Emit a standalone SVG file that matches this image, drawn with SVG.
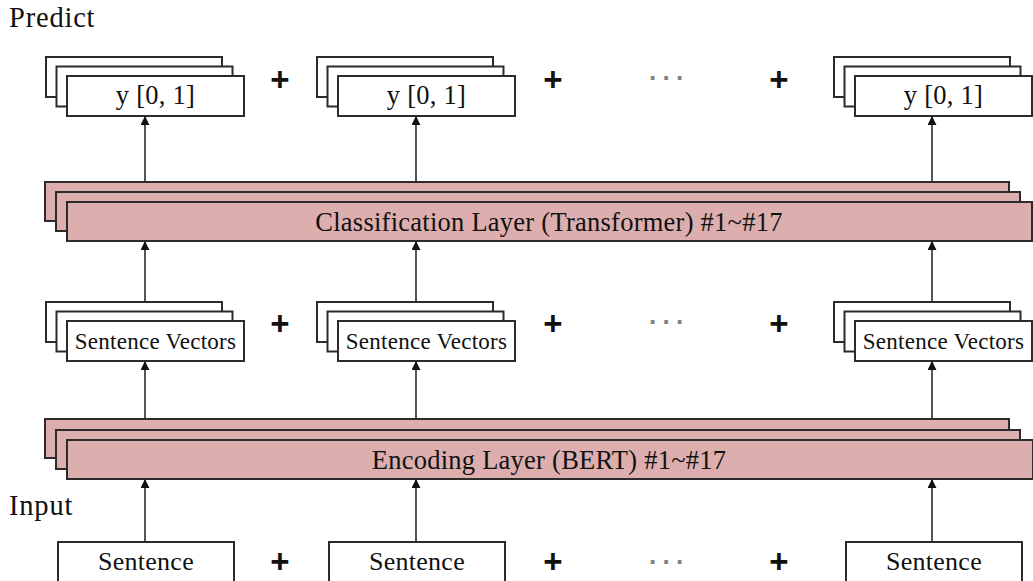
<svg xmlns="http://www.w3.org/2000/svg" width="1033" height="581" viewBox="0 0 1033 581">
  <style>
    .card { fill: #ffffff; stroke: #2b2b2b; stroke-width: 2; }
    .layer { fill: #dcaeae; stroke: #2b2b2b; stroke-width: 2; }
    .lbl { font-family: "Liberation Serif", "Times New Roman", serif; fill: #111; text-anchor: middle; letter-spacing: 0.25px; }
    .side { font-family: "Liberation Serif", "Times New Roman", serif; fill: #111; font-size: 28.5px; letter-spacing: 0.8px; }
    .plus { font-family: "Liberation Sans", Arial, sans-serif; font-weight: bold; font-size: 33px; fill: #111; text-anchor: middle; }
    .dots { font-family: "Liberation Sans", Arial, sans-serif; font-weight: bold; font-size: 26px; fill: #808080; letter-spacing: 6.3px; }
    .link { stroke: #2b2b2b; stroke-width: 1.6; fill: none; marker-end: url(#head); }
  </style>
  <defs>
    <marker id="head" viewBox="0 0 10 10" refX="9" refY="5" markerUnits="userSpaceOnUse" markerWidth="9" markerHeight="9" orient="auto">
      <path d="M0,0 L10,5 L0,10 z" fill="#111"/>
    </marker>
    <!-- three stacked cards, offset down-right -->
    <g id="stack3">
      <rect class="card" x="0" y="0" width="176" height="40"/>
      <rect class="card" x="10.5" y="9.5" width="176" height="40"/>
      <rect class="card" x="21" y="19" width="177" height="40"/>
    </g>
  </defs>

  <rect width="1033" height="581" fill="#ffffff"/>

  <text class="side" x="9" y="27">Predict</text>
  <text class="side" x="9" y="515">Input</text>

  <!-- output predictions -->
  <g id="pred1">
    <use href="#stack3" x="46" y="57"/>
    <text class="lbl" x="155.5" y="104" font-size="26.5">y [0, 1]</text>
  </g>
  <g id="pred2">
    <use href="#stack3" x="317" y="57"/>
    <text class="lbl" x="426.5" y="104" font-size="26.5">y [0, 1]</text>
  </g>
  <g id="pred3">
    <use href="#stack3" x="834" y="57"/>
    <text class="lbl" x="943.5" y="104" font-size="26.5">y [0, 1]</text>
  </g>

  <!-- classification layer -->
  <g id="classifier">
    <rect class="layer" x="45" y="182" width="964" height="39"/>
    <rect class="layer" x="56" y="192" width="964" height="39"/>
    <rect class="layer" x="67" y="202" width="965" height="39"/>
    <text class="lbl" x="549" y="230.5" font-size="26.5">Classification Layer (Transformer) #1~#17</text>
  </g>

  <!-- sentence vectors -->
  <g id="vec1">
    <use href="#stack3" x="46" y="302"/>
    <text class="lbl" x="155.5" y="349" font-size="23">Sentence Vectors</text>
  </g>
  <g id="vec2">
    <use href="#stack3" x="317" y="302"/>
    <text class="lbl" x="426.5" y="349" font-size="23">Sentence Vectors</text>
  </g>
  <g id="vec3">
    <use href="#stack3" x="834" y="302"/>
    <text class="lbl" x="943.5" y="349" font-size="23">Sentence Vectors</text>
  </g>

  <!-- encoding layer -->
  <g id="encoder">
    <rect class="layer" x="45" y="419" width="964" height="39"/>
    <rect class="layer" x="56" y="430" width="964" height="39"/>
    <rect class="layer" x="67" y="440" width="966" height="39"/>
    <text class="lbl" x="549" y="468.5" font-size="26.5">Encoding Layer (BERT) #1~#17</text>
  </g>

  <!-- input sentences -->
  <g id="sent1">
    <rect class="card" x="58" y="542" width="176" height="42"/>
    <text class="lbl" x="146" y="570" font-size="26">Sentence</text>
  </g>
  <g id="sent2">
    <rect class="card" x="329" y="542" width="176" height="42"/>
    <text class="lbl" x="417" y="570" font-size="26">Sentence</text>
  </g>
  <g id="sent3">
    <rect class="card" x="846" y="542" width="176" height="42"/>
    <text class="lbl" x="934" y="570" font-size="26">Sentence</text>
  </g>

  <!-- operators between columns -->
  <g id="operators">
    <text class="plus" x="280" y="91">+</text>
    <text class="plus" x="553" y="91">+</text>
    <text class="dots" x="649" y="80">...</text>
    <text class="plus" x="779" y="91">+</text>

    <text class="plus" x="280" y="335">+</text>
    <text class="plus" x="553" y="335">+</text>
    <text class="dots" x="649" y="324">...</text>
    <text class="plus" x="779" y="335">+</text>

    <text class="plus" x="280" y="573">+</text>
    <text class="plus" x="553" y="573">+</text>
    <text class="dots" x="649" y="564">...</text>
    <text class="plus" x="779" y="573">+</text>
  </g>

  <!-- vertical data flow -->
  <g id="connectors">
    <line class="link" x1="145" y1="542" x2="145" y2="480"/>
    <line class="link" x1="416" y1="542" x2="416" y2="480"/>
    <line class="link" x1="932" y1="542" x2="932" y2="480"/>

    <line class="link" x1="145" y1="419" x2="145" y2="362"/>
    <line class="link" x1="416" y1="419" x2="416" y2="362"/>
    <line class="link" x1="932" y1="419" x2="932" y2="362"/>

    <line class="link" x1="145" y1="302" x2="145" y2="242"/>
    <line class="link" x1="416" y1="302" x2="416" y2="242"/>
    <line class="link" x1="932" y1="302" x2="932" y2="242"/>

    <line class="link" x1="145" y1="182" x2="145" y2="117"/>
    <line class="link" x1="416" y1="182" x2="416" y2="117"/>
    <line class="link" x1="932" y1="182" x2="932" y2="117"/>
  </g>
</svg>
